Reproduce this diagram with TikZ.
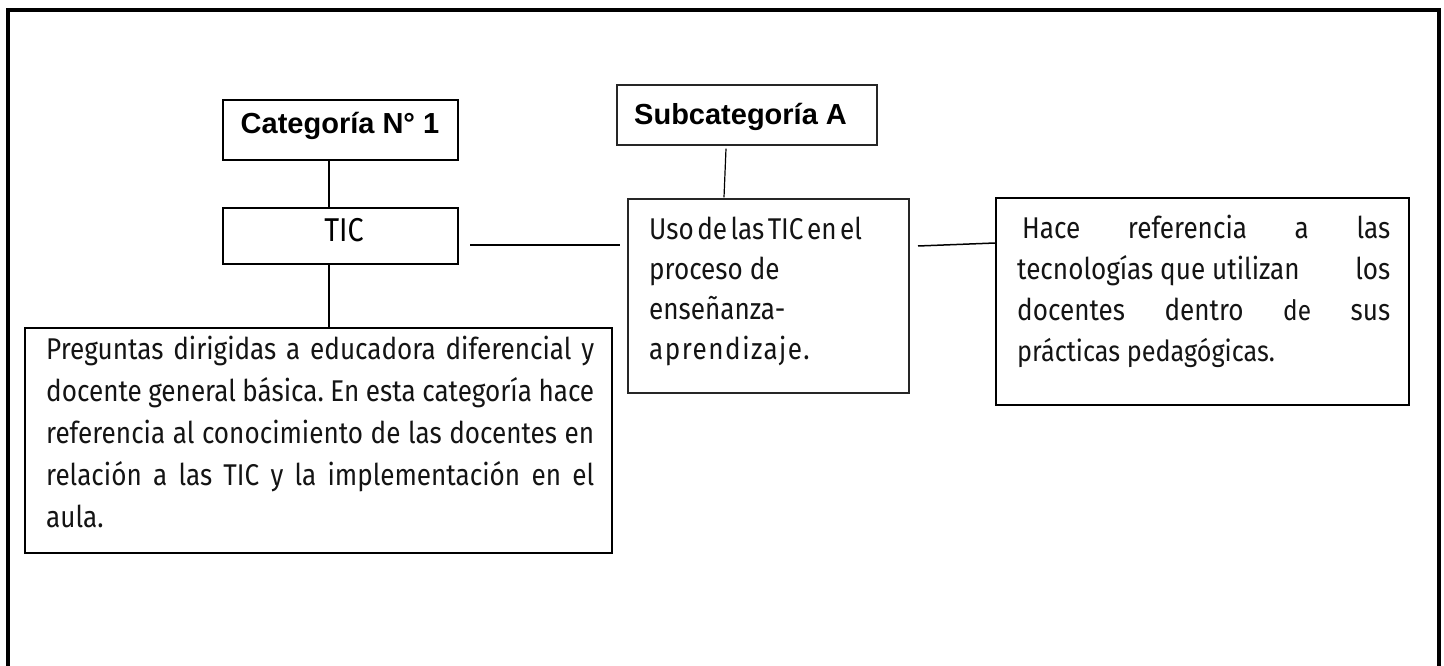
\documentclass[tikz,border=0pt]{standalone}
\usepackage{fontspec}
\newfontfamily\bodyf{Fira Sans}[FakeStretch=0.87]
\newfontfamily\headf{Liberation Sans}
\frenchspacing
\begin{document}
\begin{tikzpicture}[x=1pt,y=-1pt,
  thickbox/.style={draw=black, line width=1.7pt, inner sep=0pt},
  thinbox/.style={draw=black!85, line width=1.1pt, inner sep=0pt},
  conn/.style={draw=black, line width=1.5pt},
  headtxt/.style={inner sep=0pt, font=\headf\bfseries\fontsize{29}{34}\selectfont},
  bodytxt/.style={inner sep=0pt, align=left, text=black!92}]
\useasboundingbox (0,0) rectangle (1444,666);
% outer frame
\draw[line width=4.8pt] (8,680) -- (8,10) -- (1439,10) -- (1439,680);
% boxes
\node[thickbox, minimum width=235pt, minimum height=60pt] (cat) at (340.5,130) {};
\node[thickbox, minimum width=235pt, minimum height=56pt] (tic) at (340.5,236) {};
\node[thickbox, minimum width=587pt, minimum height=225pt] (preg) at (318.5,440.5) {};
\node[thinbox, minimum width=260pt, minimum height=60pt] (subc) at (747,115) {};
\node[thinbox, minimum width=281pt, minimum height=194pt] (uso) at (768.5,296) {};
\node[thickbox, minimum width=413pt, minimum height=207pt] (hace) at (1202.5,301.5) {};
% texts
\node[headtxt, anchor=base] (cattxt) at (340,134) {Categoría N° 1};
\node[headtxt, anchor=base west] (subctxt) at (634,125) {Subcategoría A};
\node[inner sep=0pt, anchor=base, font=\bodyf\fontsize{33}{36}\selectfont] (tictxt) at (344,241) {TIC};
\node[bodytxt, anchor=north west, font=\bodyf\fontsize{30}{42}\selectfont] (pregtxt) at (46,336)
 {\makebox[548pt][s]{Preguntas dirigidas a educadora diferencial y}\\
  \makebox[548pt][s]{docente general básica. En esta categoría hace}\\
  \makebox[548pt][s]{referencia al conocimiento de las docentes en}\\
  \makebox[548pt][s]{relación a las TIC y la implementación en el}\\
  aula.};
\node[bodytxt, anchor=north west, font=\bodyf\fontsize{30}{40}\selectfont] (usotxt) at (649,217)
 {{\spaceskip=3.5pt Uso de las TIC en el}\\ proceso de\\ enseñanza-\\ {\addfontfeature{LetterSpace=5}aprendizaje.}};
\node[bodytxt, anchor=north west, font=\bodyf\fontsize{30}{41}\selectfont] (hacetxt) at (1017,215)
 {\hspace*{5pt}\makebox[368pt][s]{Hace referencia a las}\\
  \makebox[373pt][s]{tecnologías que utilizan\hfill los}\\
  \makebox[373pt][s]{docentes dentro {\fontsize{28}{41}\selectfont de} sus}\\
  {\fontsize{29}{41}\selectfont prácticas pedagógicas.}};
% connectors
\coordinate (cx) at (329,0);
\draw[conn] (cat.south -| cx) -- (tic.north -| cx);
\draw[conn] (tic.south -| cx) -- (preg.north -| cx);
\coordinate (l1a) at (470,245);
\coordinate (l1b) at (620,245);
\draw[conn] (l1a) -- (l1b);
\draw[conn, line width=1.2pt] ([xshift=-21pt,yshift=-3pt]subc.south) -- ([xshift=-44.5pt,yshift=1pt]uso.north);
\coordinate (l3a) at (918,246);
\draw[conn] (l3a) -- ([yshift=58.5pt]hace.west);
\end{tikzpicture}
\end{document}
